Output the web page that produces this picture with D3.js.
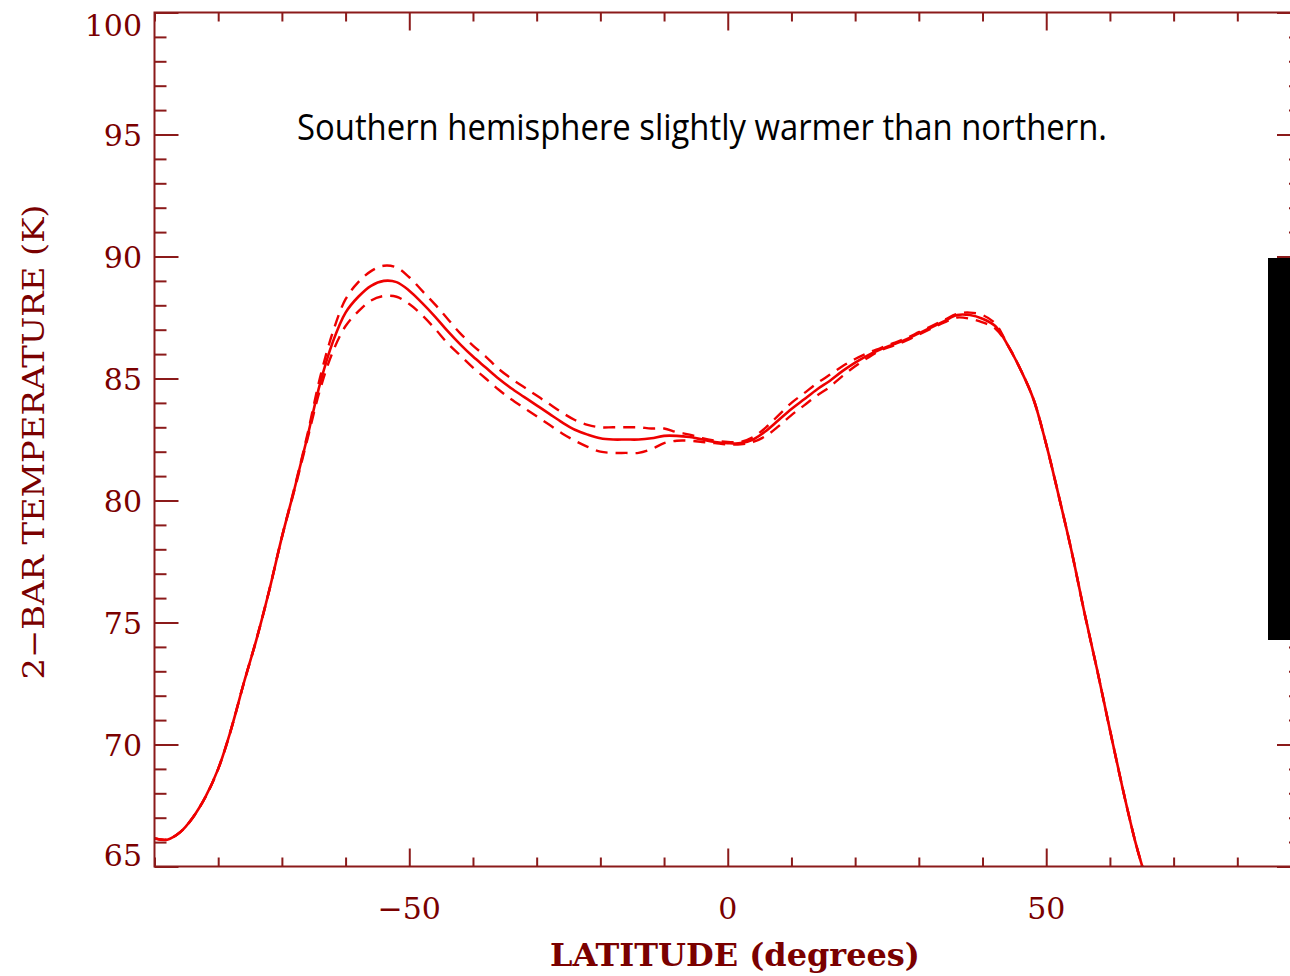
<!DOCTYPE html>
<html>
<head>
<meta charset="utf-8">
<script src="https://cdn.jsdelivr.net/npm/d3@7"></script>
<style>
  html, body { margin: 0; padding: 0; background: #fff; }
  svg { display: block; }
</style>
</head>
<body>
<svg id="chart" width="1290" height="976"></svg>
<script>
// Latitude grid (degrees) and zonal-mean 2-bar temperatures (K)
const latitudes = [-90, -88, -86, -84, -82, -80, -78, -76, -74, -72, -70, -68, -66, -64, -62, -60,
  -58, -56, -54, -52, -50, -48, -46, -44, -42, -40, -38, -36, -34, -32, -30, -28, -26, -24, -22,
  -20, -18, -16, -14, -12, -10, -8, -6, -4, -2, 0, 2, 4, 6, 8, 10, 12, 14, 16, 18, 20, 22, 24, 26,
  28, 30, 32, 34, 36, 38, 40, 42, 44, 46, 48, 50, 52, 54, 56, 58, 60, 62, 64, 65.2];

const tempMean = [66.15, 66.1, 66.4, 67.0, 67.85, 69.0, 70.6, 72.5, 74.3, 76.3, 78.5, 80.5, 82.6, 84.8,
  86.5, 87.7, 88.35, 88.8, 89.0, 88.95, 88.6, 88.1, 87.55, 86.95, 86.4, 85.9, 85.45, 85.0, 84.6,
  84.25, 83.9, 83.55, 83.2, 82.9, 82.7, 82.55, 82.5, 82.5, 82.5, 82.55, 82.65, 82.65, 82.6, 82.5,
  82.4, 82.35, 82.35, 82.5, 82.85, 83.3, 83.75, 84.15, 84.55, 84.9, 85.3, 85.65, 85.95, 86.2, 86.4,
  86.6, 86.85, 87.1, 87.35, 87.6, 87.6, 87.45, 87.15, 86.35, 85.35, 84.15, 82.3, 80.15, 77.9, 75.4,
  73.05, 70.6, 68.2, 66.0, 64.9];

// Upper and lower uncertainty envelopes
const tempUpper = [66.15, 66.1, 66.4, 67.0, 67.85, 69.0, 70.6, 72.5, 74.3, 76.3, 78.5, 80.55, 82.7, 85.05,
  86.9, 88.25, 88.95, 89.4, 89.62, 89.55, 89.15, 88.6, 88.05, 87.45, 86.85, 86.35, 85.9, 85.4, 85.0,
  84.65, 84.3, 83.95, 83.6, 83.3, 83.1, 83.0, 83.0, 83.0, 83.0, 82.95, 82.95, 82.8, 82.7, 82.55,
  82.45, 82.4, 82.4, 82.6, 83.0, 83.5, 84.0, 84.4, 84.8, 85.15, 85.5, 85.8, 86.05, 86.25, 86.45,
  86.65, 86.9, 87.15, 87.4, 87.65, 87.7, 87.6, 87.25, 86.35, 85.35, 84.15, 82.3, 80.15, 77.9, 75.4,
  73.05, 70.6, 68.2, 66.0, 64.9];

const tempLower = [66.15, 66.1, 66.4, 67.0, 67.85, 69.0, 70.6, 72.5, 74.3, 76.3, 78.5, 80.45, 82.5, 84.55,
  86.1, 87.15, 87.75, 88.2, 88.38, 88.35, 88.05, 87.6, 87.05, 86.45, 85.95, 85.45, 85.0, 84.55, 84.15,
  83.8, 83.45, 83.1, 82.75, 82.45, 82.2, 82.0, 81.95, 81.95, 81.95, 82.1, 82.35, 82.45, 82.45, 82.4,
  82.35, 82.3, 82.3, 82.4, 82.65, 83.05, 83.5, 83.9, 84.3, 84.65, 85.1, 85.5, 85.85, 86.15, 86.35,
  86.55, 86.8, 87.05, 87.3, 87.5, 87.45, 87.3, 87.05, 86.35, 85.35, 84.15, 82.3, 80.15, 77.9, 75.4,
  73.05, 70.6, 68.2, 66.0, 64.9];

const xTickLabels = [-50, 0, 50];
const yTickLabels = [65, 70, 75, 80, 85, 90, 95, 100];
const xTitle = "LATITUDE  (degrees)";
const yTitle = "2\u2212BAR  TEMPERATURE  (K)";
const note = "Southern hemisphere slightly warmer than northern.";

const axisColor = "#8b1a1a";
const labelColor = "#7a0000";
const lineColor = "#ee0000";

const svg = d3.select("#chart");
const plotLeft = 154.5, plotRight = 1301, plotTop = 12.5, plotBottom = 866.5;

const x = d3.scaleLinear().domain([-90, 90]).range([plotLeft, plotRight]);
const y = d3.scaleLinear().domain([65, 100]).range([plotBottom, plotTop]);

svg.append("defs").append("clipPath").attr("id", "plotClip")
  .append("rect").attr("x", plotLeft).attr("y", plotTop)
  .attr("width", plotRight - plotLeft).attr("height", plotBottom - plotTop);

// Curves
const pts = arr => latitudes.map((lat, i) => [lat, arr[i]]);
const gen = d3.line().x(d => x(d[0])).y(d => y(d[1])).curve(d3.curveCatmullRom.alpha(0.5));

const plot = svg.append("g").attr("clip-path", "url(#plotClip)");
[tempUpper, tempLower].forEach(arr => {
  plot.append("path").datum(pts(arr))
    .attr("d", gen).attr("fill", "none")
    .attr("stroke", lineColor).attr("stroke-width", 2.4)
    .attr("stroke-dasharray", "12,8");
});
plot.append("path").datum(pts(tempMean))
  .attr("d", gen).attr("fill", "none")
  .attr("stroke", lineColor).attr("stroke-width", 2.6);

// Frame
svg.append("rect").attr("x", plotLeft).attr("y", plotTop)
  .attr("width", plotRight - plotLeft).attr("height", plotBottom - plotTop)
  .attr("fill", "none").attr("stroke", axisColor).attr("stroke-width", 2);

// Ticks drawn with d3 axes, all pointing into the plot
const xMinor = d3.range(-90, 91, 10).filter(v => !xTickLabels.includes(v));
const yMinor = d3.range(65, 101, 1).filter(v => v % 5 !== 0);
const yMajor = yTickLabels;

function ticks(axisFn, scale, values, size, tx, ty) {
  const g = svg.append("g").attr("transform", `translate(${tx},${ty})`)
    .call(axisFn(scale).tickValues(values).tickSize(size).tickFormat(""));
  g.select(".domain").remove();
  g.selectAll("line").attr("stroke", axisColor).attr("stroke-width", 2);
}
ticks(d3.axisBottom, x, xMinor, -9, 0, plotBottom);
ticks(d3.axisBottom, x, xTickLabels, -18, 0, plotBottom);
ticks(d3.axisTop, x, xMinor, -9, 0, plotTop);
ticks(d3.axisTop, x, xTickLabels, -18, 0, plotTop);
ticks(d3.axisLeft, y, yMinor, -12, plotLeft, 0);
ticks(d3.axisLeft, y, yMajor, -24, plotLeft, 0);
ticks(d3.axisRight, y, yMinor, -12, plotRight, 0);
ticks(d3.axisRight, y, yMajor, -24, plotRight, 0);

// Tick labels
const tickFont = "'DejaVu Serif', 'Liberation Serif', serif";
svg.append("g").selectAll("text").data(xTickLabels).join("text")
  .attr("x", d => x(d)).attr("y", 919)
  .attr("text-anchor", "middle")
  .attr("font-family", tickFont).attr("font-size", 30)
  .attr("fill", labelColor)
  .text(d => d < 0 ? "\u2212" + Math.abs(d) : d);

svg.append("g").selectAll("text").data(yTickLabels).join("text")
  .attr("x", 142)
  .attr("y", d => y(d) + (d === 100 ? 23 : d === 65 ? -1 : 11))
  .attr("text-anchor", "end")
  .attr("font-family", tickFont).attr("font-size", 30)
  .attr("fill", labelColor)
  .text(d => d);

// Axis titles
svg.append("text").attr("x", 735).attr("y", 966)
  .attr("text-anchor", "middle")
  .attr("font-family", tickFont).attr("font-size", 31).attr("font-weight", "bold")
  .attr("fill", labelColor)
  .attr("textLength", 370).attr("lengthAdjust", "spacingAndGlyphs")
  .text(xTitle);

svg.append("text")
  .attr("transform", "translate(44,442) rotate(-90)")
  .attr("text-anchor", "middle")
  .attr("font-family", tickFont).attr("font-size", 30)
  .attr("fill", labelColor)
  .attr("textLength", 475).attr("lengthAdjust", "spacingAndGlyphs")
  .text(yTitle);

// Annotation
svg.append("text").attr("x", 297).attr("y", 140)
  .attr("font-family", "'Open Sans', 'Noto Sans', sans-serif").attr("font-size", 36)
  .attr("fill", "#000")
  .attr("textLength", 810).attr("lengthAdjust", "spacingAndGlyphs")
  .text(note);

// Dark panel at the right edge
svg.append("rect").attr("x", 1268).attr("y", 258)
  .attr("width", 30).attr("height", 382).attr("fill", "#000");
</script>
</body>
</html>
